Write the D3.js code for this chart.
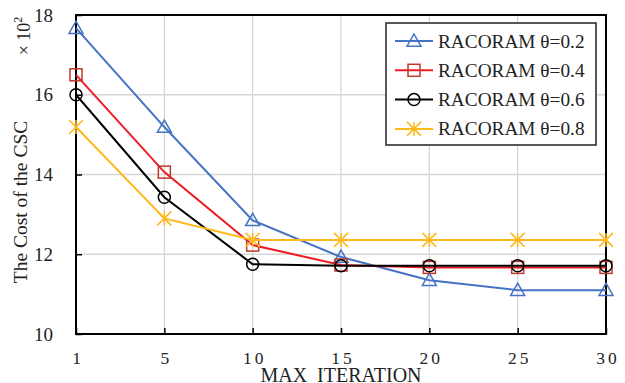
<!DOCTYPE html>
<html><head><meta charset="utf-8">
<script src="https://cdn.jsdelivr.net/npm/d3@7"></script>
<style>body{margin:0;background:#fff}svg{display:block}text{font-family:"Liberation Serif","Times New Roman",serif;fill:#222}</style>
</head><body><svg id="c" width="625" height="383"></svg>
<script>
const categories = [1, 5, 10, 15, 20, 25, 30];
const theta02 = [17.67, 15.19, 12.85, 11.93, 11.35, 11.10, 11.10];
const theta04 = [16.50, 14.06, 12.23, 11.73, 11.67, 11.67, 11.67];
const theta06 = [16.00, 13.43, 11.75, 11.71, 11.71, 11.71, 11.71];
const theta08 = [15.19, 12.90, 12.36, 12.36, 12.36, 12.36, 12.36];
const seriesNames = ["RACORAM θ=0.2", "RACORAM θ=0.4", "RACORAM θ=0.6", "RACORAM θ=0.8"];
const yTicks = [10, 12, 14, 16, 18];

const series = [
  {name: seriesNames[0], values: theta02, color: "#4472C4", mColor: "#4472C4", shape: "tri"},
  {name: seriesNames[1], values: theta04, color: "#EE1C25", mColor: "#C0392B", shape: "sq"},
  {name: seriesNames[2], values: theta06, color: "#000000", mColor: "#000000", shape: "circ"},
  {name: seriesNames[3], values: theta08, color: "#FFB81C", mColor: "#FFB81C", shape: "star"}
];

const svg = d3.select("#c");
const L = 76, R = 606, T = 15, B = 334;
const x = d3.scalePoint().domain(categories).range([L, R]);
const y = d3.scaleLinear().domain([10, 18]).range([B, T]);

// grid
svg.append("g").selectAll("line").data(yTicks.filter(v => v > 10 && v < 18)).join("line")
  .attr("x1", L).attr("x2", R).attr("y1", d => y(d)).attr("y2", d => y(d))
  .attr("stroke", "#d6d6d6").attr("stroke-width", 1.3);
svg.append("g").selectAll("line").data(categories.slice(1, -1)).join("line")
  .attr("x1", d => x(d)).attr("x2", d => x(d)).attr("y1", T).attr("y2", B)
  .attr("stroke", "#d6d6d6").attr("stroke-width", 1.3);

// frame
svg.append("rect").attr("x", L).attr("y", T).attr("width", R - L).attr("height", B - T)
  .attr("fill", "none").attr("stroke", "#000").attr("stroke-width", 2);

// axes
const xa = svg.append("g").attr("transform", `translate(0,${B})`)
  .call(d3.axisBottom(x).tickSize(-6).tickPadding(18));
xa.select(".domain").remove();
xa.selectAll("line").attr("stroke", "#000").attr("stroke-width", 1.5);
xa.selectAll("text").attr("font-size", 17.5).attr("letter-spacing", "3px").attr("fill", "#222")
  .attr("dx", "1.5px");

const ya = svg.append("g").attr("transform", `translate(${L},0)`)
  .call(d3.axisLeft(y).tickValues(yTicks).tickSize(-6).tickPadding(23));
ya.select(".domain").remove();
ya.selectAll("line").attr("stroke", "#000").attr("stroke-width", 1.5);
ya.selectAll("text").attr("font-size", 19).attr("fill", "#222");

// labels
svg.append("text").attr("transform", "translate(27,202) rotate(-90)").attr("text-anchor", "middle")
  .attr("font-size", 19.5).text("The Cost of the CSC");
const mul = svg.append("text").attr("transform", "translate(30,36) rotate(-90)").attr("text-anchor", "middle")
  .attr("font-size", 18);
mul.append("tspan").text("× 10");
mul.append("tspan").attr("dy", -8).attr("font-size", 12).text("2");
svg.append("text").attr("x", 341).attr("y", 382).attr("text-anchor", "middle")
  .attr("font-size", 20).attr("xml:space", "preserve").text("MAX  ITERATION");

// markers
function drawMarker(g, shape, cx, cy, color) {
  if (shape === "tri") {
    const s = 7;
    g.append("path").attr("d", `M${cx},${cy - s} L${cx + s},${cy + s * 0.75} L${cx - s},${cy + s * 0.75} Z`)
      .attr("fill", "none").attr("stroke", color).attr("stroke-width", 1.5);
  } else if (shape === "sq") {
    g.append("rect").attr("x", cx - 6).attr("y", cy - 6).attr("width", 12).attr("height", 12)
      .attr("fill", "none").attr("stroke", color).attr("stroke-width", 1.5);
  } else if (shape === "circ") {
    g.append("circle").attr("cx", cx).attr("cy", cy).attr("r", 6)
      .attr("fill", "none").attr("stroke", color).attr("stroke-width", 1.5);
  } else {
    const s = 7;
    g.append("path").attr("d",
      `M${cx - s},${cy - s} L${cx + s},${cy + s} M${cx - s},${cy + s} L${cx + s},${cy - s} M${cx},${cy - s} L${cx},${cy + s}`)
      .attr("stroke", color).attr("stroke-width", 1.5);
  }
}

const line = d3.line().x((d, i) => x(categories[i])).y(d => y(d));
series.forEach(s => {
  const g = svg.append("g");
  g.append("path").attr("d", line(s.values)).attr("fill", "none")
    .attr("stroke", s.color).attr("stroke-width", 2);
  s.values.forEach((v, i) => drawMarker(g, s.shape, x(categories[i]), y(v), s.mColor));
});

// legend
const lg = svg.append("g");
lg.append("rect").attr("x", 386).attr("y", 23).attr("width", 210).attr("height", 122)
  .attr("fill", "#fff").attr("stroke", "#222").attr("stroke-width", 1.5);
series.forEach((s, i) => {
  const cy = 41 + i * 29.3;
  lg.append("line").attr("x1", 395).attr("x2", 433).attr("y1", cy).attr("y2", cy)
    .attr("stroke", s.color).attr("stroke-width", 2);
  drawMarker(lg, s.shape, 414, cy, s.mColor);
  lg.append("text").attr("x", 438).attr("y", cy + 6.5).attr("font-size", 19.3).text(s.name);
});
</script></body></html>
